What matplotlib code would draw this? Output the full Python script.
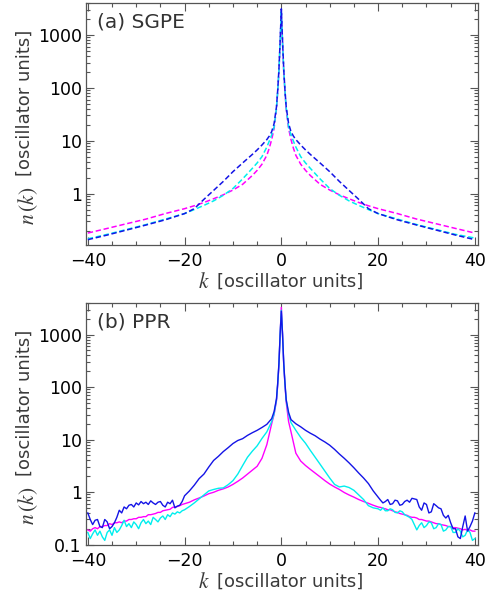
import matplotlib
matplotlib.use("Agg")
import matplotlib.pyplot as plt
from matplotlib.ticker import MultipleLocator, LogLocator, NullFormatter, FixedLocator, FixedFormatter

plt.rcParams['font.family'] = ['DejaVu Sans']
plt.rcParams['mathtext.fontset'] = 'stix'

# --- (a) SGPE: momentum grid and the three dashed curves ---
k_sgpe = [-40, -36, -32, -28, -24, -20, -18, -16, -14, -12, -10, -8, -6, -5, -4, -3,
          -2.5, -2, -1.5, -1, -0.75, -0.5, -0.25, 0,
          0.25, 0.5, 0.75, 1, 1.5, 2, 2.5, 3, 4, 5, 6, 8, 10, 12, 14, 16, 18, 20,
          24, 28, 32, 36, 40]
sgpe_magenta = [0.18, 0.22, 0.27, 0.33, 0.42, 0.52, 0.59, 0.68, 0.80, 0.95, 1.17, 1.5, 2.2, 2.75, 3.6, 5.3,
                7.2, 10.5, 17, 40, 85, 200, 700, 3000,
                700, 200, 85, 40, 17, 10.5, 7.2, 5.3, 3.6, 2.75, 2.2, 1.5, 1.17, 0.95, 0.80, 0.68, 0.59, 0.52,
                0.42, 0.33, 0.27, 0.22, 0.18]
sgpe_cyan = [0.14, 0.17, 0.21, 0.26, 0.33, 0.42, 0.50, 0.60, 0.73, 0.93, 1.25, 1.9, 3.0, 3.8, 5.0, 7.6,
             9.8, 12.8, 18, 42, 88, 210, 720, 3000,
             720, 210, 88, 42, 18, 12.8, 9.8, 7.6, 5.0, 3.8, 3.0, 1.9, 1.25, 0.93, 0.73, 0.60, 0.50, 0.42,
             0.33, 0.26, 0.21, 0.17, 0.145]
sgpe_blue = [0.135, 0.165, 0.205, 0.255, 0.32, 0.42, 0.52, 0.78, 1.15, 1.7, 2.6, 3.8, 5.5, 6.7, 8.3, 10.5,
             12.2, 14.8, 21, 44, 90, 220, 750, 3100,
             750, 220, 90, 44, 21, 14.8, 12.2, 10.5, 8.3, 6.7, 5.5, 3.8, 2.6, 1.7, 1.15, 0.78, 0.52, 0.42,
             0.32, 0.255, 0.205, 0.165, 0.135]

# --- (b) PPR: momentum grid and the three noisy solid curves ---
k_ppr = [-40, -39.5, -39, -38.5, -38, -37.5, -37, -36.5, -36, -35.5,
         -35, -34.5, -34, -33.5, -33, -32.5, -32, -31.5, -31, -30.5,
         -30, -29.5, -29, -28.5, -28, -27.5, -27, -26.5, -26, -25.5,
         -25, -24.5, -24, -23.5, -23, -22.5, -22, -21.5, -21, -20.5, -20,
         -19, -18, -17, -16, -15, -14, -13, -12, -11, -10, -9, -8, -7, -6, -5, -4, -3,
         -2, -1.5, -1, -0.75, -0.5, -0.25, 0, 0.25, 0.5, 0.75, 1, 1.5, 2,
         3, 4, 5, 6, 7, 8, 9, 10, 11, 12, 13, 14, 15, 16, 17, 18, 19,
         20, 20.5, 21, 21.5, 22, 22.5, 23, 23.5, 24, 24.5,
         25, 25.5, 26, 26.5, 27, 27.5, 28, 28.5, 29, 29.5,
         30, 30.5, 31, 31.5, 32, 32.5, 33, 33.5, 34, 34.5,
         35, 35.5, 36, 36.5, 37, 37.5, 38, 38.5, 39, 39.5, 40]
ppr_blue = [0.40, 0.30, 0.24, 0.29, 0.30, 0.22, 0.21, 0.30, 0.27, 0.20,
            0.22, 0.26, 0.33, 0.45, 0.40, 0.52, 0.48, 0.56, 0.58, 0.52,
            0.62, 0.57, 0.66, 0.60, 0.64, 0.58, 0.68, 0.62, 0.58, 0.64,
            0.66, 0.56, 0.52, 0.64, 0.60, 0.70, 0.50, 0.54, 0.56, 0.66, 0.85,
            1.05, 1.35, 1.8, 2.2, 3.0, 4.0, 4.8, 5.9, 7.0, 8.4, 9.6, 10.4, 12.0, 13.5, 15.0, 17.0, 19.5,
            25, 34, 60, 120, 280, 1000, 2800, 1000, 280, 120, 58, 33, 24,
            20, 17.5, 15, 13.2, 11.8, 10.2, 9.0, 7.8, 6.5, 5.3, 4.4, 3.6, 2.9, 2.3, 1.85, 1.45, 1.05,
            0.80, 0.70, 0.62, 0.66, 0.72, 0.58, 0.60, 0.70, 0.68, 0.56,
            0.58, 0.66, 0.70, 0.64, 0.76, 0.74, 0.72, 0.52, 0.45, 0.62,
            0.58, 0.40, 0.42, 0.60, 0.55, 0.50, 0.48, 0.36, 0.32, 0.36,
            0.26, 0.20, 0.20, 0.14, 0.13, 0.22, 0.35, 0.18, 0.22, 0.28, 0.40]
ppr_cyan = [0.17, 0.13, 0.16, 0.19, 0.15, 0.18, 0.14, 0.12, 0.17, 0.19,
            0.15, 0.21, 0.17, 0.19, 0.23, 0.29, 0.22, 0.25, 0.21, 0.27,
            0.24, 0.20, 0.26, 0.30, 0.25, 0.28, 0.24, 0.33, 0.30, 0.27,
            0.32, 0.35, 0.30, 0.37, 0.34, 0.40, 0.38, 0.42, 0.40, 0.44, 0.46,
            0.53, 0.62, 0.74, 0.88, 1.05, 1.12, 1.18, 1.20, 1.38, 1.65, 2.2, 3.2, 4.6, 6.0, 7.6, 10.5, 14,
            22, 31, 58, 115, 270, 1000, 2900, 1000, 270, 115, 56, 30, 21,
            15, 11, 8.5, 6.2, 4.6, 3.4, 2.5, 1.85, 1.4, 1.25, 1.3, 1.22, 1.08, 0.88, 0.72, 0.55, 0.50,
            0.48, 0.45, 0.50, 0.44, 0.44, 0.48, 0.46, 0.41, 0.40, 0.44,
            0.42, 0.37, 0.35, 0.33, 0.30, 0.24, 0.19, 0.23, 0.26, 0.21,
            0.23, 0.27, 0.26, 0.20, 0.21, 0.25, 0.24, 0.18, 0.19, 0.22,
            0.22, 0.17, 0.17, 0.20, 0.18, 0.14, 0.15, 0.19, 0.17, 0.12, 0.13]
ppr_magenta = [0.19, 0.18, 0.20, 0.21, 0.20, 0.22, 0.22, 0.23, 0.23, 0.25,
               0.24, 0.26, 0.26, 0.27, 0.26, 0.28, 0.28, 0.30, 0.30, 0.31,
               0.31, 0.33, 0.33, 0.34, 0.34, 0.37, 0.37, 0.38, 0.39, 0.41,
               0.41, 0.44, 0.45, 0.46, 0.47, 0.51, 0.52, 0.53, 0.55, 0.58, 0.60,
               0.64, 0.71, 0.77, 0.84, 0.93, 0.99, 1.08, 1.15, 1.25, 1.40, 1.60, 1.85, 2.2, 2.6, 3.1, 4.4, 8.0,
               20, 30, 55, 110, 260, 1000, 3300, 1000, 260, 110, 52, 22, 14,
               5.5, 3.9, 3.2, 2.7, 2.3, 1.95, 1.65, 1.42, 1.25, 1.12, 0.98, 0.88, 0.80, 0.72, 0.66, 0.61, 0.56,
               0.52, 0.51, 0.49, 0.48, 0.46, 0.46, 0.44, 0.42, 0.41, 0.39,
               0.38, 0.37, 0.36, 0.34, 0.33, 0.33, 0.32, 0.30, 0.30, 0.29,
               0.28, 0.28, 0.27, 0.26, 0.25, 0.25, 0.24, 0.235, 0.23, 0.22,
               0.22, 0.21, 0.21, 0.205, 0.20, 0.19, 0.195, 0.185, 0.19, 0.18, 0.18]

x_ticks = [-40, -20, 0, 20, 40]
x_tick_labels = ['\u221240', '\u221220', '0', '20', '40']

MAGENTA = '#ff00ff'
CYAN = '#00eeee'
BLUE = '#1414e6'
FRAME = '#555555'
LABEL = '#3a3a3a'


def style_axis(ax, ylim, yticks, yticklabels, panel):
    ax.set_yscale('log')
    ax.set_xlim(-40.4, 40.6)
    ax.set_ylim(*ylim)
    ax.xaxis.set_major_locator(FixedLocator(x_ticks))
    ax.xaxis.set_major_formatter(FixedFormatter(x_tick_labels))
    ax.xaxis.set_minor_locator(MultipleLocator(5))
    ax.yaxis.set_major_locator(FixedLocator(yticks))
    ax.yaxis.set_major_formatter(FixedFormatter(yticklabels))
    ax.yaxis.set_minor_locator(LogLocator(base=10, subs=range(2, 10), numticks=20))
    ax.yaxis.set_minor_formatter(NullFormatter())
    ax.tick_params(which='both', direction='in', top=True, right=True,
                   colors=FRAME, labelcolor='black', labelsize=12.5, width=0.8)
    ax.tick_params(which='major', length=6)
    ax.tick_params(which='minor', length=3)
    ax.tick_params(axis='x', pad=5)
    ax.tick_params(axis='y', pad=3)
    for s in ax.spines.values():
        s.set_color(FRAME)
        s.set_linewidth(0.9)
    ax.text(0.028, 0.96, panel, transform=ax.transAxes, ha='left', va='top',
            fontsize=14.5, color='#333333')


def axis_labels(fig, dy):
    # dy: vertical shift (figure fraction) of the lower panel
    fig.text(0.418, 0.5276 - dy, '$k$', fontsize=15.5, color=LABEL, ha='center', va='center')
    fig.text(0.5953, 0.5276 - dy, '[oscillator units]', fontsize=13, color=LABEL,
             ha='center', va='center')
    fig.text(0.051, 0.8283 - dy, '[oscillator units]', fontsize=13, color=LABEL,
             ha='center', va='center', rotation=90)
    fig.text(0.057, 0.655 - dy, r'$n\,(k)$', fontsize=15.5, color=LABEL,
             ha='center', va='center', rotation=90)


fig = plt.figure(figsize=(4.88, 5.97), dpi=100)
ax1 = fig.add_axes([0.176, 0.5896, 0.803, 0.4054])
ax2 = fig.add_axes([0.176, 0.0871, 0.803, 0.4054])

dash = (0, (3.5, 1.8))
ax1.plot(k_sgpe, sgpe_magenta, color=MAGENTA, lw=1.1, linestyle=dash)
ax1.plot(k_sgpe, sgpe_cyan, color=CYAN, lw=1.1, linestyle=dash)
ax1.plot(k_sgpe, sgpe_blue, color=BLUE, lw=1.1, linestyle=dash)
style_axis(ax1, (0.107, 4000), [1, 10, 100, 1000], ['1', '10', '100', '1000'], '(a) SGPE')

ax2.plot(k_ppr, ppr_magenta, color=MAGENTA, lw=1.0)
ax2.plot(k_ppr, ppr_cyan, color=CYAN, lw=1.0)
ax2.plot(k_ppr, ppr_blue, color=BLUE, lw=1.0)
style_axis(ax2, (0.098, 4000), [0.1, 1, 10, 100, 1000], ['0.1', '1', '10', '100', '1000'], '(b) PPR')

axis_labels(fig, 0.0)
axis_labels(fig, 300 / 597)

fig.savefig('out.png', dpi=100)
